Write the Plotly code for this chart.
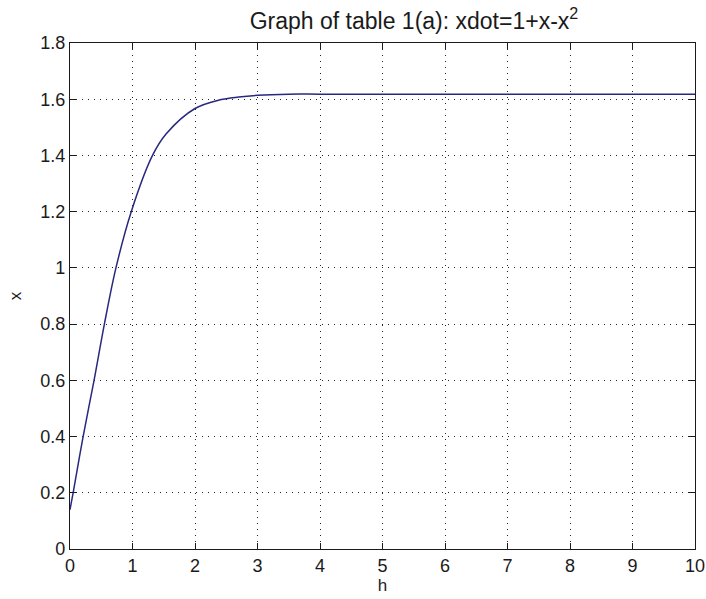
import plotly.graph_objects as go

h_vals = [0, 0.05, 0.21, 0.385, 0.55, 0.735, 0.98, 1.32, 1.54, 2.0, 2.4, 2.7, 3.0, 3.5, 4, 5, 6, 7, 8, 9, 10]
x_vals = [0.14, 0.2, 0.4, 0.6, 0.8, 1.0, 1.2, 1.4, 1.477, 1.567, 1.598, 1.608, 1.614, 1.618, 1.618, 1.618, 1.618, 1.618, 1.618, 1.618, 1.618]

x_ticks = [0, 1, 2, 3, 4, 5, 6, 7, 8, 9, 10]
y_ticks = [0, 0.2, 0.4, 0.6, 0.8, 1.0, 1.2, 1.4, 1.6, 1.8]
y_tick_text = ["0", "0.2", "0.4", "0.6", "0.8", "1", "1.2", "1.4", "1.6", "1.8"]

FONT = "Liberation Sans, Arial, sans-serif"
INK = "#1a1a1a"

fig = go.Figure()
fig.add_trace(go.Scatter(x=h_vals, y=x_vals, mode="lines",
                         line=dict(color="#28287f", width=1.5, shape="spline", smoothing=1.0),
                         showlegend=False))

axis_common = dict(showline=True, linecolor=INK, linewidth=1.3, mirror="allticks",
                   ticks="inside", ticklen=6, tickcolor=INK, tickwidth=1.3,
                   showgrid=True, gridcolor="#222", griddash="1px,5px", gridwidth=1.2,
                   zeroline=False, automargin=False,
                   tickfont=dict(family=FONT, size=18, color=INK))

fig.update_xaxes(range=[0, 10], tickvals=x_ticks,
                 title=dict(text="h", font=dict(family=FONT, size=17, color=INK), standoff=4),
                 **axis_common)
fig.update_yaxes(range=[0, 1.8], tickvals=y_ticks, ticktext=y_tick_text,
                 title=dict(text="x", font=dict(family=FONT, size=17, color=INK), standoff=14),
                 **axis_common)

fig.update_layout(
    width=706, height=599,
    margin=dict(l=70, r=11, t=43, b=50, autoexpand=False),
    paper_bgcolor="white", plot_bgcolor="white",
    title=dict(text="Graph of table 1(a): xdot=1+x-x<sup>2</sup>", xref="container", x=414 / 706,
               xanchor="center", yref="container", y=1 - 13 / 599, yanchor="top",
               font=dict(family=FONT, size=23, color=INK)),
)

fig.write_html("out.html", config={"displayModeBar": False},
               post_script="document.body.style.margin='0';document.body.style.overflow='hidden';")
